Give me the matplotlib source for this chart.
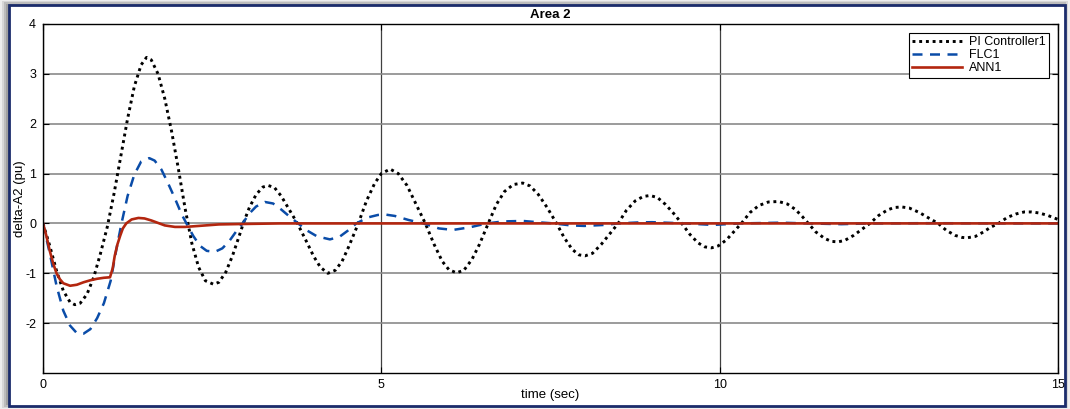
import numpy as np
import matplotlib
matplotlib.use('Agg')
import matplotlib.pyplot as plt
from matplotlib.patches import Rectangle

plt.rcParams['font.family'] = ['Liberation Sans', 'DejaVu Sans']
plt.rcParams['axes.unicode_minus'] = False

# PI controller response
t_pi = [0, 0.1, 0.2, 0.3, 0.4, 0.47, 0.55, 0.65, 0.75, 0.85, 0.95, 1.05, 1.15, 1.25, 1.35, 1.45,
        1.53, 1.6, 1.7, 1.8, 1.9, 2.0, 2.1, 2.2, 2.3, 2.4, 2.52, 2.6, 2.7, 2.8, 2.9, 2.96,
        3.05, 3.15, 3.25, 3.33, 3.42, 3.52, 3.62, 3.76, 3.9, 4.0, 4.1, 4.21, 4.32, 4.42, 4.52,
        4.66, 4.78, 4.9, 5.0, 5.13, 5.25, 5.38, 5.5, 5.65, 5.78, 5.9, 6.0, 6.11, 6.22, 6.34,
        6.45, 6.58, 6.7, 6.82, 6.95, 7.09, 7.2, 7.32, 7.45, 7.59, 7.7, 7.82, 7.92, 8.01, 8.12,
        8.25, 8.38, 8.5, 8.62, 8.75, 8.87, 8.97, 9.08, 9.2, 9.32, 9.44, 9.56, 9.68, 9.78, 9.88,
        9.98, 10.1, 10.2, 10.32, 10.45, 10.58, 10.72, 10.87, 11.0, 11.12, 11.22, 11.31, 11.42,
        11.55, 11.65, 11.75, 11.85, 11.98, 12.1, 12.22, 12.35, 12.48, 12.58, 12.69, 12.8, 12.95,
        13.1, 13.23, 13.35, 13.48, 13.58, 13.65, 13.78, 13.9, 14.0, 14.12, 14.25, 14.38, 14.5,
        14.61, 14.72, 14.85, 15.0]
v_pi = [0, -0.45, -0.95, -1.35, -1.58, -1.63, -1.6, -1.42, -1.08, -0.6, -0.07, 0.6, 1.35, 2.1,
        2.75, 3.18, 3.33, 3.28, 3.0, 2.5, 1.85, 1.1, 0.3, -0.4, -0.88, -1.15, -1.22, -1.18,
        -0.98, -0.65, -0.25, 0.0, 0.32, 0.58, 0.73, 0.76, 0.72, 0.55, 0.32, 0.0, -0.38, -0.66,
        -0.88, -1.0, -0.94, -0.76, -0.46, 0.0, 0.45, 0.8, 1.0, 1.09, 1.0, 0.76, 0.42, 0.0,
        -0.42, -0.76, -0.93, -0.99, -0.94, -0.72, -0.42, 0.0, 0.38, 0.64, 0.78, 0.81, 0.75,
        0.58, 0.32, 0.0, -0.28, -0.52, -0.63, -0.65, -0.6, -0.42, -0.2, 0.0, 0.26, 0.45, 0.54,
        0.56, 0.52, 0.38, 0.2, 0.0, -0.22, -0.39, -0.47, -0.49, -0.45, -0.33, -0.18, 0.0, 0.22,
        0.36, 0.43, 0.44, 0.39, 0.28, 0.14, 0.0, -0.17, -0.3, -0.36, -0.37, -0.34, -0.24, -0.12,
        0.0, 0.16, 0.27, 0.32, 0.33, 0.31, 0.22, 0.1, 0.0, -0.14, -0.24, -0.28, -0.29, -0.26,
        -0.17, -0.08, 0.0, 0.12, 0.19, 0.23, 0.23, 0.21, 0.16, 0.08]

# FLC response
t_flc = [0, 0.1, 0.2, 0.3, 0.4, 0.5, 0.6, 0.7, 0.8, 0.9, 1.0, 1.08, 1.16, 1.25, 1.35, 1.45,
         1.57, 1.65, 1.75, 1.85, 1.95, 2.05, 2.12, 2.22, 2.32, 2.42, 2.54, 2.65, 2.75, 2.85,
         2.95, 3.05, 3.15, 3.28, 3.4, 3.52, 3.65, 3.77, 3.9, 4.05, 4.24, 4.38, 4.5, 4.63, 4.8,
         4.95, 5.05, 5.2, 5.4, 5.62, 5.85, 6.06, 6.3, 6.56, 6.8, 7.09, 7.35, 7.55, 7.8, 8.0,
         8.3, 8.5, 8.8, 9.0, 9.3, 9.5, 9.9, 10.3, 10.9, 11.3, 11.8, 12.2, 13.0, 15.0]
v_flc = [0, -0.6, -1.25, -1.75, -2.05, -2.2, -2.21, -2.12, -1.9, -1.6, -1.15, -0.55, 0.0, 0.55,
         0.98, 1.24, 1.31, 1.26, 1.08, 0.8, 0.5, 0.18, 0.0, -0.25, -0.45, -0.55, -0.57, -0.5,
         -0.36, -0.17, 0.0, 0.2, 0.34, 0.43, 0.4, 0.28, 0.13, 0.0, -0.14, -0.26, -0.32, -0.27,
         -0.15, 0.0, 0.12, 0.17, 0.18, 0.15, 0.07, 0.0, -0.1, -0.13, -0.08, 0.0, 0.04, 0.05,
         0.02, 0.0, -0.04, -0.05, -0.03, 0.0, 0.02, 0.025, 0.01, 0.0, -0.03, 0.0, 0.015, 0.0,
         -0.015, 0.0, 0.005, 0.0]

# ANN response
t_ann = [0, 0.05, 0.1, 0.15, 0.2, 0.25, 0.3, 0.4, 0.5, 0.6, 0.7, 0.8, 0.9, 0.99, 1.03, 1.06,
         1.1, 1.14, 1.18, 1.23, 1.31, 1.41, 1.5, 1.6, 1.7, 1.8, 1.95, 2.1, 2.3, 2.6, 3.0, 3.5, 15.0]
v_ann = [0, -0.25, -0.55, -0.8, -1.0, -1.12, -1.2, -1.25, -1.23, -1.18, -1.14, -1.11, -1.09,
         -1.08, -0.9, -0.65, -0.42, -0.25, -0.1, 0.0, 0.08, 0.11, 0.1, 0.06, 0.01, -0.04, -0.07,
         -0.07, -0.05, -0.02, -0.01, 0.0, 0.0]

fig = plt.figure(figsize=(10.70, 4.09), dpi=100)
fig.patch.set_facecolor('white')

# shadow + navy frame around the figure
W, H = 1070.0, 409.0
for i, a in enumerate([0.10, 0.16, 0.22, 0.30]):
    fig.patches.append(Rectangle(((i * 2) / W, (i * 1.2) / H), 1 - (i * 4) / W, 1 - (i * 2.4) / H,
                                 transform=fig.transFigure, facecolor='#606060', alpha=a,
                                 edgecolor='none', zorder=0))
fig.patches.append(Rectangle((9 / W, 3 / H), 1056 / W, 401 / H, transform=fig.transFigure,
                             facecolor='white', edgecolor='#1b2c6b', linewidth=2, zorder=1))

ax = fig.add_axes([43 / W, 36 / H, 1015 / W, 349 / H])
ax.set_zorder(2)

ax.plot(t_pi, v_pi, color='black', linewidth=2.1, linestyle=(0, (1, 1.3)), label='PI Controller1')
ax.plot(t_flc, v_flc, color='#0a4ca8', linewidth=1.8, linestyle=(0, (4, 3)), label='FLC1')
ax.plot(t_ann, v_ann, color='#b3260f', linewidth=1.9, label='ANN1')

ax.set_xlim(0, 15)
ax.set_ylim(-3, 4)
ax.set_xticks([0, 5, 10, 15])
ax.set_yticks([-2, -1, 0, 1, 2, 3, 4])
ax.tick_params(direction='in', length=4, labelsize=9, top=True, right=True, pad=5)
ax.tick_params(axis='x', pad=4)
for s in ax.spines.values():
    s.set_linewidth(1.0)
ax.yaxis.grid(True, color='#8a8a8a', linewidth=1.2)
ax.xaxis.grid(True, color='#404040', linewidth=0.9)
ax.set_axisbelow(True)

ax.set_title('Area 2', fontsize=9.5, fontweight='bold', pad=4)
ax.set_xlabel('time (sec)', fontsize=9.5, labelpad=-1)
ax.set_ylabel('delta-A2 (pu)', fontsize=9.5, labelpad=-1)

leg = ax.legend(loc='upper right', fontsize=9, frameon=True, fancybox=False, edgecolor='black',
                framealpha=1, handlelength=4.0, labelspacing=0.1, borderpad=0.25,
                handletextpad=0.6, borderaxespad=0.7)
leg.get_frame().set_linewidth(0.8)

fig.savefig('out.png', dpi=100)
